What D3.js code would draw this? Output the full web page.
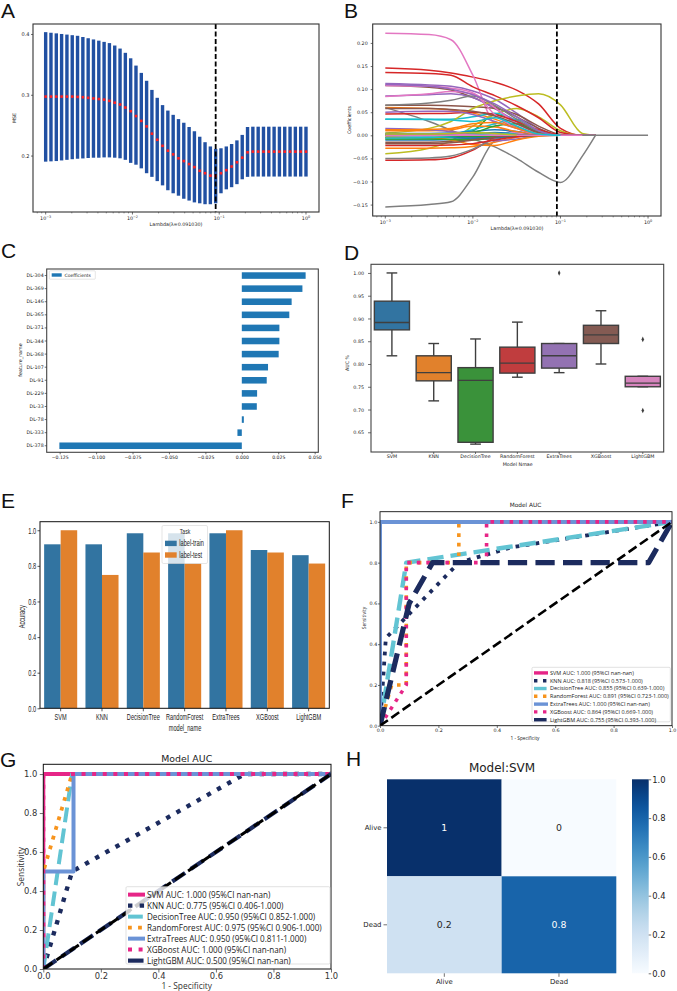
<!DOCTYPE html>
<html><head><meta charset="utf-8">
<script src="https://cdn.jsdelivr.net/npm/d3@7"></script>
<style>body{margin:0;background:#fff}svg{display:block}</style>
</head><body><svg id="chart" width="677" height="991"></svg>
<script>
// ================= DATA =================
// Panel A: LASSO CV
const lambdas = [0.001,0.001151,0.001326,0.001526,0.001758,0.002024,0.002330,0.002683,0.003089,0.003556,
0.004095,0.004715,0.005429,0.006251,0.007197,0.008286,0.009541,0.010985,0.012649,0.014563,
0.016768,0.019307,0.022230,0.025595,0.029471,0.033932,0.039069,0.044984,0.051795,0.059636,
0.068665,0.079060,0.091030,0.104811,0.120679,0.138950,0.159986,0.184207,0.212095,0.244205,
0.281177,0.323746,0.372759,0.429193,0.494171,0.568987,0.655129,0.754312,0.868511,1.0];
const mseMean = [0.297,0.297,0.297,0.297,0.297,0.297,0.2965,0.296,0.295,0.294,0.293,0.292,0.290,0.287,
0.284,0.279,0.273,0.265,0.257,0.248,0.236,0.226,0.216,0.208,0.202,0.1955,0.191,0.186,0.181,0.175,0.171,0.167,0.1665,0.171,0.176,0.182,0.189,0.1966,0.2054,
0.2065,0.2065,0.2065,0.2065,0.2065,0.2065,0.2065,0.2065,0.2065,0.2065,0.2065];
const mseUpper = [0.403,0.402,0.401,0.400,0.399,0.398,0.397,0.395,0.393,0.391,0.389,0.387,0.385,0.381,
0.376,0.369,0.360,0.348,0.336,0.323,0.308,0.295,0.283,0.274,0.267,0.260,0.254,0.247,0.240,0.231,0.222,0.215,0.211,0.212,0.215,0.219,0.225,0.234,0.247,
0.2475,0.2475,0.2475,0.2475,0.2475,0.2475,0.2475,0.2475,0.2475,0.2475,0.2475];
const mseLower = [0.190,0.1905,0.191,0.192,0.193,0.194,0.1948,0.1953,0.196,0.1965,0.1965,0.197,0.197,0.1965,
0.1955,0.193,0.188,0.185,0.179,0.171,0.165,0.158,0.151,0.143,0.138,0.134,0.129,0.126,0.123,0.1215,0.120,0.120,0.1215,0.138,0.1445,0.148,0.153,0.161,0.165,
0.1655,0.1655,0.1655,0.1655,0.1655,0.1655,0.1655,0.1655,0.1655,0.1655,0.1655];
const lambdaMin = 0.091030;

// Panel B: coefficient paths (values at knot lambdas)
const coefKnots = [0.001,0.003162,0.005623,0.01,0.017783,0.031623,0.056234,0.1,0.177828,0.251189,1.0];
const coefPaths = [
[0.000,0.000,0.001,0.003,0.006,0.004,0.001,0,0,0,null],
[0.060,0.058,0.055,0.048,0.035,0.018,0.004,0,0,0,null],
[0.000,0.000,0.001,0.010,0.045,0.030,0.005,0,0,0,null],
[0.146,0.141,0.135,0.126,0.115,0.098,0.068,0.015,0,0,null],
[0.112,0.109,0.106,0.096,0.078,0.048,0.015,0,0,0,null],
[0.108,0.104,0.098,0.082,0.062,0.040,0.015,0,0,0,null],
[0.221,0.218,0.207,0.130,0.024,0.005,0.001,0,0,0,null],
[-0.155,-0.150,-0.144,-0.090,-0.012,0,0,0,0,0,null],
[-0.040,-0.028,-0.012,0.020,0.045,0.058,0.040,0.010,0,0,null],
[0.035,0.035,0.035,0.040,0.048,0.032,0.008,0,0,0,null],

[-0.010,-0.010,-0.009,-0.007,-0.004,-0.001,0,0,0,0,null],
[-0.028,-0.028,-0.027,-0.024,-0.015,-0.004,0,0,0,0,null],
[-0.005,-0.005,-0.005,-0.006,-0.004,-0.001,0,0,0,0,null],
[0.136,0.134,0.130,0.105,0.086,0.064,0.038,0.006,0,0,null],
[0.085,0.088,0.090,0.082,0.058,0.030,0.008,0,0,0,null],
[0.065,0.065,0.064,0.062,0.058,0.045,0.020,0.002,0,0,null],
[0.108,0.106,0.102,0.092,0.060,0.025,0.006,0,0,0,null],
[0.060,0.030,0.011,-0.008,-0.025,-0.050,-0.080,-0.102,-0.045,0,null],
[0.005,0.015,0.030,0.058,0.075,0.085,0.090,0.066,0.004,0,null],
[0.000,0.001,0.003,0.012,0.025,0.035,0.010,0,0,0,null],

[0.004,0.004,0.005,0.008,0.012,0.008,0.002,0,0,0,null],
[0.010,0.010,0.012,0.020,0.018,0.008,0.002,0,0,0,null],
[0.002,0.002,0.003,0.006,0.020,0.025,0.006,0,0,0,null],
[0.046,0.047,0.048,0.050,0.045,0.030,0.012,0.001,0,0,null],
[0.015,0.012,0.008,0.000,-0.012,-0.008,-0.001,0,0,0,null],
[-0.015,-0.015,-0.013,-0.008,-0.002,0,0,0,0,0,null],
[0.084,0.090,0.095,0.090,0.045,0.015,0.002,0,0,0,null],
[0.065,0.070,0.076,0.085,0.065,0.035,0.010,0,0,0,null],
[0.000,0.000,0.000,0.002,0.004,0.002,0,0,0,0,null],
[0.002,0.002,0.001,0.000,0.000,0,0,0,0,0,null],

[-0.004,-0.004,-0.005,-0.006,-0.003,0,0,0,0,0,null],
[-0.004,-0.006,-0.010,-0.020,-0.022,-0.010,-0.002,0,0,0,null],
[-0.008,-0.008,-0.009,-0.010,-0.006,-0.002,0,0,0,0,null],
[-0.054,-0.053,-0.049,-0.032,-0.006,0,0,0,0,0,null],
[0.050,0.052,0.052,0.045,0.030,0.015,0.003,0,0,0,null],
[0.058,0.058,0.056,0.052,0.042,0.025,0.006,0,0,0,null],
[0.002,0.002,0.002,0.001,0,0,0,0,0,0,null],
[-0.050,-0.049,-0.045,-0.030,-0.008,0,0,0,0,0,null],
[0.000,0.000,-0.001,-0.002,-0.001,0,0,0,0,0,null],
[-0.006,-0.005,-0.003,0.000,0.004,0.002,0,0,0,0,null],

[0.001,0.001,0.000,-0.003,-0.005,-0.002,0,0,0,0,null],
[0.012,0.013,0.015,0.025,0.028,0.015,0.003,0,0,0,null],
[0.000,0.000,-0.001,-0.002,-0.002,0,0,0,0,0,null],
[-0.022,-0.022,-0.021,-0.018,-0.010,-0.003,0,0,0,0,null],
[0.110,0.106,0.100,0.088,0.068,0.040,0.010,0,0,0,null],
[-0.018,-0.018,-0.016,-0.010,-0.004,0,0,0,0,0,null],
[0,0,0,0,0,0,0,0,0,0,null],
[null,null,null,null,null,null,null,null,0,0,0],
[0.003,0.003,0.004,0.006,0.004,0,null,null,null,null,null],
[0.035,0.034,0.033,0.030,0.038,0.020,0.003,0,null,null,null]
];

// Panel C: selected features
const features = ["DL-304","DL-369","DL-146","DL-365","DL-371","DL-344","DL-368","DL-107","DL-91","DL-229","DL-33","DL-78","DL-333","DL-378"];
const featureCoefs = [0.0438,0.0416,0.0342,0.0326,0.0258,0.0258,0.0253,0.0180,0.0171,0.0105,0.0103,0.0014,-0.0030,-0.1252];

// Panel D: AUC box plots
const models = ["SVM","KNN","DecisionTree","RandomForest","ExtraTrees","XGBoost","LightGBM"];
const aucLow  = [0.818,0.719,0.624,0.771,0.781,0.800,0.750];
const aucQ1   = [0.875,0.763,0.628,0.780,0.791,0.845,0.750];
const aucMed  = [0.891,0.781,0.764,0.802,0.818,0.864,0.758];
const aucQ3   = [0.938,0.818,0.792,0.837,0.845,0.885,0.773];
const aucHigh = [1.000,0.845,0.855,0.892,0.845,0.917,0.773];
const aucOutliers = [[],[],[],[],[1.0],[],[0.854,0.698]];

// Panel E: accuracy
const accTrain = [0.921,0.921,0.983,0.983,0.983,0.889,0.860];
const accTest  = [1.000,0.749,0.875,0.813,1.000,0.875,0.813];
const taskNames = ["label-train","label-test"];

// Panel F: ROC (test)
const rocFfpr = [[0,0,1],[0,0.02,0.27,0.45,1],[0,0.09,1],[0,0.04,0.09,0.09,0.27,0.27,1],[0,0,1],[0,0.09,0.09,0.365,0.365,1],[0,0.1,0.18,0.92,1]];
const rocFtpr = [[0,1,1],[0,0.43,0.8,0.875,1],[0,0.8,1],[0,0.2,0.2,0.8,0.8,1,1],[0,1,1],[0,0.2,0.8,0.8,1,1],[0,0.6,0.8,0.8,1]];
const rocFLabels = ["SVM AUC: 1.000 (95%CI nan-nan)","KNN AUC: 0.818 (95%CI 0.573-1.000)","DecisionTree AUC: 0.855 (95%CI 0.639-1.000)","RandomForest AUC: 0.891 (95%CI 0.723-1.000)","ExtraTrees AUC: 1.000 (95%CI nan-nan)","XGBoost AUC: 0.864 (95%CI 0.669-1.000)","LightGBM AUC: 0.755 (95%CI 0.393-1.000)"];

// Panel G: ROC
const rocGfpr = [[0,0,1],[0,0.1,0.7,1],[0,0.1,1],[0,0,0.1,1],[0,0,0.105,0.105,1],[0,0,1],[0,1]];
const rocGtpr = [[0,1,1],[0,0.5,1,1],[0,1,1],[0,0.5,1,1],[0,0.5,0.5,1,1],[0,1,1],[0,1]];
const rocGLabels = ["SVM AUC: 1.000 (95%CI nan-nan)","KNN AUC: 0.775 (95%CI 0.406-1.000)","DecisionTree AUC: 0.950 (95%CI 0.852-1.000)","RandomForest AUC: 0.975 (95%CI 0.906-1.000)","ExtraTrees AUC: 0.950 (95%CI 0.811-1.000)","XGBoost AUC: 1.000 (95%CI nan-nan)","LightGBM AUC: 0.500 (95%CI nan-nan)"];

// Panel H: confusion matrix
const cmClasses = ["Alive","Dead"];
const cmValues = [[1,0],[0.2,0.8]];

// ================= DRAWING =================
const svg = d3.select("#chart");
const DV = "'DejaVu Sans', sans-serif";
const OS = "'Open Sans', 'DejaVu Sans', sans-serif";
const LS = "'Liberation Sans', Arial, sans-serif";
svg.append("rect").attr("width",677).attr("height",991).attr("fill","#fff");

function txt(x,y,s,o={}){
  const t = svg.append("text").text(s)
    .attr("font-size",o.fs||5).attr("font-family",o.ff||DV).attr("fill",o.fill||"#222")
    .attr("text-anchor",o.anchor||"middle");
  let tr = `translate(${x},${y})`;
  if(o.rot) tr += ` rotate(${o.rot})`;
  if(o.sx) tr += ` scale(${o.sx},1)`;
  t.attr("transform",tr);
  if(o.dy) t.attr("dy",o.dy);
  return t;
}
function frame(b,c,w){
  svg.append("rect").attr("x",b.l).attr("y",b.t).attr("width",b.r-b.l).attr("height",b.b-b.t)
    .attr("fill","none").attr("stroke",c||"#333").attr("stroke-width",w||1);
}
function ax(gen,tx,ty,o={}){
  const g = svg.append("g").attr("transform",`translate(${tx},${ty})`).call(gen);
  g.select(".domain").remove();
  g.selectAll(".tick line").attr("stroke",o.tc||"#333").attr("stroke-width",o.tw||0.7);
  g.selectAll(".tick text").attr("font-size",o.fs||5).attr("font-family",o.ff||DV).attr("fill",o.fill||"#222");
  if(o.sx){
    g.selectAll(".tick text").each(function(){
      const e=d3.select(this); const x=+(e.attr("x")||0);
      e.attr("x",x/o.sx).attr("transform",`scale(${o.sx},1)`);
    });
  }
  return g;
}
function letter(s,x,y){ txt(x,y,s,{fs:21,ff:LS,anchor:"start",fill:"#111"}); }
function logAxis(b,x){
  const g = svg.append("g");
  const minors=[];
  [1e-4,1e-3,1e-2,1e-1,1].forEach(d=>{for(let k=2;k<10;k++){const v=d*k;const p=x(v);if(p>b.l&&p<b.r)minors.push(v);}});
  g.selectAll("line.mi").data(minors).join("line").attr("class","mi")
    .attr("x1",d=>x(d)).attr("x2",d=>x(d)).attr("y1",b.b).attr("y2",b.b+1.4).attr("stroke","#333").attr("stroke-width",0.5);
  const majors=[1e-3,1e-2,1e-1,1], ex=["−3","−2","−1","0"];
  g.selectAll("line.ma").data(majors).join("line").attr("class","ma")
    .attr("x1",d=>x(d)).attr("x2",d=>x(d)).attr("y1",b.b).attr("y2",b.b+2.5).attr("stroke","#333").attr("stroke-width",0.7);
  majors.forEach((d,i)=>{
    const t=g.append("text").attr("x",x(d)).attr("y",b.b+8).attr("text-anchor","middle")
      .attr("font-size",4.8).attr("font-family",DV).attr("fill","#222");
    t.append("tspan").text("10");
    t.append("tspan").attr("dy",-1.8).attr("font-size",3.4).text(ex[i]);
  });
}

// ---------- Panel A ----------
letter("A",1,18);
const bA={l:33,r:319,t:24,b:212};
const xA=d3.scaleLog().domain([Math.pow(10,-3.146),Math.pow(10,0.15)]).range([bA.l,bA.r]);
const yA=d3.scaleLinear().domain([0.1072,0.4164]).range([bA.b,bA.t]);
svg.append("g").selectAll("rect").data(lambdas).join("rect")
  .attr("x",d=>xA(d)-1.7).attr("width",3.4)
  .attr("y",(d,i)=>yA(mseUpper[i])).attr("height",(d,i)=>yA(mseLower[i])-yA(mseUpper[i]))
  .attr("fill","#2150a2");
svg.append("g").selectAll("rect").data(lambdas).join("rect")
  .attr("x",d=>xA(d)-1.3).attr("y",(d,i)=>yA(mseMean[i])-1.3).attr("width",2.6).attr("height",2.6)
  .attr("fill","#ff2020");
svg.append("line").attr("x1",xA(lambdaMin)).attr("x2",xA(lambdaMin)).attr("y1",bA.t).attr("y2",bA.b)
  .attr("stroke","#000").attr("stroke-width",1.8).attr("stroke-dasharray","5,2.5");
frame(bA,"#333",1.1);
logAxis(bA,xA);
ax(d3.axisLeft(yA).tickValues([0.2,0.3,0.4]).tickFormat(d3.format(".1f")).tickSize(2).tickPadding(1.5),bA.l,0);
txt(16,118,"MSE",{rot:-90,fs:4.8});
txt(176,226,"Lambda(λ=0.091030)",{fs:4.8});

// ---------- Panel B ----------
letter("B",344,18);
const bB={l:372.7,r:661,t:24,b:216};
const xB=d3.scaleLog().domain([Math.pow(10,-3.144),Math.pow(10,0.148)]).range([bB.l,bB.r]);
const yB=d3.scaleLinear().domain([-0.1747,0.241]).range([bB.b,bB.t]);
const tab10=d3.schemeCategory10;
const lineB=d3.line().defined(d=>d[1]!=null).x(d=>xB(d[0])).y(d=>yB(d[1])).curve(d3.curveMonotoneX);
const gB=svg.append("g");
coefPaths.forEach((vals,k)=>{
  gB.append("path").attr("d",lineB(vals.map((v,i)=>[coefKnots[i],v])))
    .attr("fill","none").attr("stroke",tab10[k%10]).attr("stroke-width",1.5);
});
svg.append("line").attr("x1",xB(lambdaMin)).attr("x2",xB(lambdaMin)).attr("y1",bB.t).attr("y2",bB.b)
  .attr("stroke","#000").attr("stroke-width",1.8).attr("stroke-dasharray","5,2.5");
frame(bB,"#333",1.1);
logAxis(bB,xB);
ax(d3.axisLeft(yB).tickValues([-0.15,-0.1,-0.05,0,0.05,0.1,0.15,0.2]).tickFormat(d3.format(".2f")).tickSize(2).tickPadding(3),bB.l,0,{fs:4.8});
txt(350.5,120,"Coefficients",{rot:-90,fs:4.8});
txt(517,229.5,"Lambda(λ=0.091030)",{fs:4.8});

// ---------- Panel C ----------
letter("C",1,258);
const bC={l:46.7,r:318.3,t:269,b:452.3};
const xC=d3.scaleLinear().domain([-0.1339,0.0525]).range([bC.l,bC.r]);
const yC=d3.scaleBand().domain(features).range([bC.t,bC.b]).paddingInner(0.5).paddingOuter(0.25);
svg.append("g").selectAll("rect").data(features).join("rect")
  .attr("x",(d,i)=>xC(Math.min(0,featureCoefs[i]))).attr("width",(d,i)=>Math.abs(xC(featureCoefs[i])-xC(0)))
  .attr("y",d=>yC(d)).attr("height",yC.bandwidth()).attr("fill","#1f77b4");
frame(bC,"#444",1.1);
ax(d3.axisBottom(xC).tickValues([-0.125,-0.1,-0.075,-0.05,-0.025,0,0.025,0.05]).tickFormat(d3.format(".3f")).tickSize(2).tickPadding(1),0,bC.b,{fs:4.6});
ax(d3.axisLeft(yC).tickSize(2).tickPadding(1),bC.l,0,{fs:4.8});
txt(21.7,360,"feature_name",{rot:-90,fs:4.8});
svg.append("rect").attr("x",49.3).attr("y",270.8).attr("width",46).attr("height",8.4).attr("fill","#fff").attr("fill-opacity",0.85).attr("stroke","#ccc").attr("stroke-width",0.5).attr("rx",0.8);
svg.append("rect").attr("x",51.7).attr("y",273.3).attr("width",10).attr("height",3.4).attr("fill","#1f77b4");
txt(64.5,276.6,"Coefficients",{fs:4.5,anchor:"start"});

// ---------- Panel D ----------
letter("D",344,260);
const bD={l:371,r:663.7,t:264.3,b:452};
const xD=d3.scaleBand().domain(models).range([bD.l,bD.r]).paddingInner(0.16).paddingOuter(0.08);
const yD=d3.scaleLinear().domain([0.6067,1.019]).range([bD.b,bD.t]);
const boxColors=["#3274a1","#e1812c","#3a923a","#c03d3e","#9372b2","#845b53","#d684bd"];
const gD=svg.append("g");
models.forEach((m,i)=>{
  const x0=xD(m), w=xD.bandwidth(), cx=x0+w/2, cw=10.7, ec="#3f3f3f";
  gD.append("line").attr("x1",cx).attr("x2",cx).attr("y1",yD(aucQ3[i])).attr("y2",yD(aucHigh[i])).attr("stroke",ec).attr("stroke-width",1.4);
  gD.append("line").attr("x1",cx).attr("x2",cx).attr("y1",yD(aucQ1[i])).attr("y2",yD(aucLow[i])).attr("stroke",ec).attr("stroke-width",1.4);
  gD.append("line").attr("x1",cx-cw/2).attr("x2",cx+cw/2).attr("y1",yD(aucHigh[i])).attr("y2",yD(aucHigh[i])).attr("stroke",ec).attr("stroke-width",1.4);
  gD.append("line").attr("x1",cx-cw/2).attr("x2",cx+cw/2).attr("y1",yD(aucLow[i])).attr("y2",yD(aucLow[i])).attr("stroke",ec).attr("stroke-width",1.4);
  gD.append("rect").attr("x",x0).attr("width",w).attr("y",yD(aucQ3[i])).attr("height",Math.max(0.5,yD(aucQ1[i])-yD(aucQ3[i])))
    .attr("fill",boxColors[i]).attr("stroke",ec).attr("stroke-width",1.4);
  gD.append("line").attr("x1",x0).attr("x2",x0+w).attr("y1",yD(aucMed[i])).attr("y2",yD(aucMed[i])).attr("stroke",ec).attr("stroke-width",1.4);
  aucOutliers[i].forEach(v=>{
    gD.append("path").attr("d",d3.symbol(d3.symbolDiamond,9)()).attr("transform",`translate(${cx},${yD(v)}) scale(0.8,1)`).attr("fill",ec);
  });
});
frame(bD,"#444",1.1);
ax(d3.axisLeft(yD).tickValues([0.65,0.7,0.75,0.8,0.85,0.9,0.95,1.0]).tickFormat(d3.format(".2f")).tickSize(3).tickPadding(4),bD.l,0,{fs:4.8});
ax(d3.axisBottom(xD).tickSize(2).tickPadding(1),0,bD.b,{fs:4.8});
txt(348.7,363,"AUC %",{rot:-90,fs:4.8});
txt(517.7,465.5,"Model Nmae",{fs:4.8});

// ---------- Panel E ----------
letter("E",1,508);
const SX=0.64;
const bE={l:40,r:329.3,t:521.7,b:708.3};
const xE=d3.scaleBand().domain(models).range([bE.l,bE.r]).paddingInner(0.2).paddingOuter(0.1);
const xE1=d3.scaleBand().domain(taskNames).range([0,xE.bandwidth()]);
const yE=d3.scaleLinear().domain([0,1.048]).range([bE.b,bE.t]);
const eCol=["#3274a1","#e1812c"];
const gE=svg.append("g");
models.forEach((m,i)=>{
  [accTrain[i],accTest[i]].forEach((v,j)=>{
    gE.append("rect").attr("x",xE(m)+xE1(taskNames[j])).attr("width",xE1.bandwidth())
      .attr("y",yE(v)).attr("height",yE(0)-yE(v)).attr("fill",eCol[j]);
  });
});
frame(bE,"#111",1);
ax(d3.axisLeft(yE).tickValues([0,0.2,0.4,0.6,0.8,1.0]).tickFormat(d3.format(".1f")).tickSize(2.5).tickPadding(1.3),bE.l,0,{fs:8.8,ff:LS,sx:SX,tc:"#111"});
ax(d3.axisBottom(xE).tickSize(3).tickPadding(2),0,bE.b,{fs:8.8,ff:LS,sx:SX,tc:"#111"});
txt(25,616.7,"Accuracy",{rot:-90,fs:8.8,ff:LS,sx:SX});
txt(185,731,"model_name",{fs:8.8,ff:LS,sx:SX});
svg.append("rect").attr("x",162).attr("y",525.5).attr("width",45.5).attr("height",38).attr("rx",1.5)
  .attr("fill","#fff").attr("fill-opacity",0.8).attr("stroke","#d5d5d5").attr("stroke-width",0.6);
txt(185,533.5,"Task",{fs:8,ff:LS,sx:SX});
taskNames.forEach((t,j)=>{
  svg.append("rect").attr("x",165).attr("y",540.7+j*11.6).attr("width",11.7).attr("height",5.4).attr("fill",eCol[j]);
  txt(179.3,546.3+j*11.6,t,{fs:8.8,ff:LS,sx:SX,anchor:"start"});
});

// ---------- ROC helper ----------
function dashFor(s){
  if(s.d==="dot") return `${s.w},${1.65*s.w}`;
  if(s.d==="dash") return `${3.7*s.w},${1.6*s.w}`;
  return null;
}
function rocPanel(b,x,y,fprs,tprs,styles,chance,id){
  svg.append("clipPath").attr("id",id).append("rect").attr("x",b.l).attr("y",b.t).attr("width",b.r-b.l).attr("height",b.b-b.t);
  const g=svg.append("g").attr("clip-path",`url(#${id})`);
  fprs.forEach((f,i)=>{
    const s=styles[i];
    g.append("path").attr("d",d3.line()(f.map((v,j)=>[x(v),y(tprs[i][j])])))
      .attr("fill","none").attr("stroke",s.c).attr("stroke-width",s.w)
      .attr("stroke-dasharray",dashFor(s)).attr("stroke-linejoin","round");
  });
  g.append("line").attr("x1",x(0)).attr("y1",y(0)).attr("x2",x(1)).attr("y2",y(1))
    .attr("stroke","#000").attr("stroke-width",chance).attr("stroke-dasharray",`${3.7*chance},${1.6*chance}`);
}
function rocLegend(x0,y0,w,h,step,labels,styles,fs,hl){
  svg.append("rect").attr("x",x0).attr("y",y0).attr("width",w).attr("height",h).attr("rx",1.2)
    .attr("fill","#fff").attr("fill-opacity",0.8).attr("stroke","#ccc").attr("stroke-width",0.6);
  labels.forEach((l,i)=>{
    const yy=y0+step*0.72+i*step;
    const s=styles[i];
    svg.append("line").attr("x1",x0+2).attr("x2",x0+2+hl).attr("y1",yy).attr("y2",yy)
      .attr("stroke",s.c).attr("stroke-width",s.w).attr("stroke-dasharray",dashFor(s));
    txt(x0+hl+4,yy+fs*0.36,l,{fs:fs,ff:OS,anchor:"start",fill:"#222"});
  });
}
const PINK="#e62587", NAVY="#1c2b5e", CYAN="#62c4d3", ORNG="#f7941d", CORN="#6b93d6";

// ---------- Panel F ----------
letter("F",341,508);
const bF={l:380,r:672,t:511.7,b:725.7};
const xF=d3.scaleLinear().domain([0,1]).range([bF.l,bF.r]);
const yF=d3.scaleLinear().domain([0,1.05]).range([bF.b,bF.t]);
const stF=[{c:PINK,w:3.6},{c:NAVY,w:3.8,d:"dot"},{c:CYAN,w:4.4,d:"dash"},{c:ORNG,w:3.6,d:"dot"},{c:CORN,w:4},{c:PINK,w:3.6,d:"dot"},{c:NAVY,w:5.2,d:"dash"}];
rocPanel(bF,xF,yF,rocFfpr,rocFtpr,stF,2.6,"clipF");
frame(bF,"#111",0.9);
ax(d3.axisBottom(xF).tickValues([0,0.2,0.4,0.6,0.8,1]).tickFormat(d3.format(".1f")).tickSize(2.3).tickPadding(0.5),0,bF.b,{fs:4.8});
ax(d3.axisLeft(yF).tickValues([0,0.2,0.4,0.6,0.8,1]).tickFormat(d3.format(".1f")).tickSize(2).tickPadding(0.8),bF.l,0,{fs:4.8});
txt(525.5,507,"Model AUC",{fs:5.8});
txt(365.5,618,"Sensitivity",{rot:-90,fs:4.8,ff:OS});
txt(525,740,"1 - Specificity",{fs:4.8,ff:OS});
rocLegend(532,667.3,138.3,54.5,7.8,rocFLabels,stF.map(s=>({c:s.c,w:Math.min(s.w,3.4),d:s.d})),5.5,14);

// ---------- Panel G ----------
letter("G",0,767);
const bG={l:43.3,r:331,t:764.3,b:969};
const xG=d3.scaleLinear().domain([0,1]).range([bG.l,bG.r]);
const yG=d3.scaleLinear().domain([0,1.05]).range([bG.b,bG.t]);
const stG=[{c:PINK,w:4},{c:NAVY,w:4.4,d:"dot"},{c:CYAN,w:4,d:"dash"},{c:ORNG,w:3.8,d:"dot"},{c:CORN,w:4},{c:PINK,w:4,d:"dot"},{c:NAVY,w:4.2,d:"dash"}];
rocPanel(bG,xG,yG,rocGfpr,rocGtpr,stG,3,"clipG");
frame(bG,"#111",1);
ax(d3.axisBottom(xG).tickValues([0,0.2,0.4,0.6,0.8,1]).tickFormat(d3.format(".1f")).tickSize(3.5).tickPadding(1),0,bG.b,{fs:8.4,fill:"#333"});
ax(d3.axisLeft(yG).tickValues([0,0.2,0.4,0.6,0.8,1]).tickFormat(d3.format(".1f")).tickSize(3.5).tickPadding(2.5),bG.l,0,{fs:8.4,fill:"#333"});
txt(186.7,762,"Model AUC",{fs:9.4});
txt(24,866.7,"Sensitivity",{rot:-90,fs:8.4,ff:OS,fill:"#333"});
txt(186.7,989,"1 - Specificity",{fs:8.4,ff:OS,fill:"#333"});
rocLegend(126,886.7,204,77.3,11,rocGLabels,stG,8.1,17);

// ---------- Panel H ----------
letter("H",346,766);
const bH={l:387,r:616.3,t:779.3,b:973.3};
const xH=d3.scaleBand().domain(cmClasses).range([bH.l,bH.r]);
const yH=d3.scaleBand().domain(cmClasses).range([bH.t,bH.b]);
const cH=d3.scaleSequential(d3.interpolateBlues).domain([0,1]);
cmClasses.forEach((r,i)=>cmClasses.forEach((c,j)=>{
  const v=cmValues[i][j];
  svg.append("rect").attr("x",xH(c)).attr("y",yH(r)).attr("width",xH.bandwidth()).attr("height",yH.bandwidth()).attr("fill",cH(v));
  txt(xH(c)+xH.bandwidth()/2,yH(r)+yH.bandwidth()/2+3.4,String(v),{fs:9.4,fill:v>0.5?"#fff":"#262626"});
}));
ax(d3.axisLeft(yH).tickSize(3.5).tickPadding(2),bH.l,0,{fs:6.9,tc:"#333"});
ax(d3.axisBottom(xH).tickSize(3.5).tickPadding(2),0,bH.b,{fs:6.9,tc:"#333"});
txt(502,772,"Model:SVM",{fs:12});
const grad=svg.append("defs").append("linearGradient").attr("id","blues").attr("x1",0).attr("x2",0).attr("y1",1).attr("y2",0);
d3.range(0,1.0001,0.05).forEach(t=>grad.append("stop").attr("offset",t).attr("stop-color",cH(t)));
const cb={l:632,r:648.7,t:779.3,b:973.3};
svg.append("rect").attr("x",cb.l).attr("y",cb.t).attr("width",cb.r-cb.l).attr("height",cb.b-cb.t).attr("fill","url(#blues)");
const yCB=d3.scaleLinear().domain([0,1]).range([cb.b,cb.t]);
ax(d3.axisRight(yCB).tickValues([0,0.2,0.4,0.6,0.8,1]).tickFormat(d3.format(".1f")).tickSize(2.5).tickPadding(1),cb.r,0,{fs:8.4,tc:"#333"});
</script></body></html>
